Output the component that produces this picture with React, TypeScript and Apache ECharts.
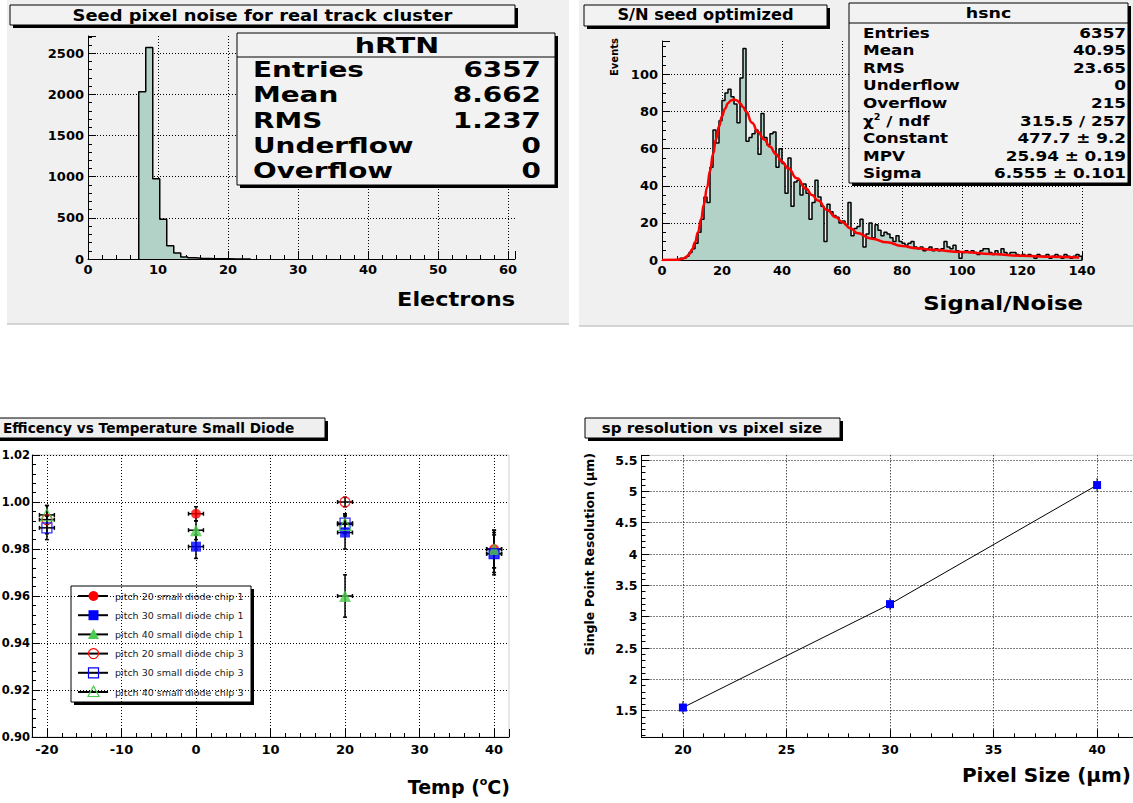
import React, { useEffect, useRef } from "react";
import * as echarts from "echarts";

// ---------------- hRTN : seed pixel noise ----------------
const noiseBinLow = 7.25; // low edge of first filled bin (electrons)
const noiseBinWidth = 1;
const noiseCounts = [2031, 2570, 976, 482, 160, 72, 24, 15, 8, 6, 4, 3, 2, 1, 1, 1];
const noiseStatLabels = ["Entries", "Mean", "RMS", "Underflow", "Overflow"];
const noiseStatValues = ["6357", "8.662", "1.237", "0", "0"];

// ---------------- hsnc : signal / noise ----------------
const snBinLow = 0;
const snBinWidth = 1;
const snCounts = [
  0, 0, 0, 0, 0, 0, 1, 1, 2, 4,
  6, 9, 15, 22, 34, 31, 50, 70, 63, 75,
  86, 90, 92, 88, 84, 74, 98, 114, 64, 66,
  68, 70, 57, 79, 66, 62, 68, 69, 50, 60,
  52, 36, 55, 29, 42, 43, 35, 41, 36, 22,
  31, 43, 34, 29, 10, 30, 26, 24, 23, 20,
  21, 19, 31, 13, 17, 18, 22, 7, 14, 20,
  12, 19, 16, 13, 15, 14, 12, 10, 13, 10,
  9, 8, 9, 10, 7, 6, 7, 5, 6, 7,
  5, 6, 5, 6, 10, 7, 6, 8, 5, 1,
  4, 5, 4, 5, 4, 3, 5, 6, 6, 4,
  3, 5, 3, 6, 4, 3, 4, 4, 3, 2,
  3, 2, 3, 2, 1, 3, 2, 2, 3, 1,
  2, 3, 2, 1, 3, 2, 1, 2, 3, 2,
];
// Landau fit curve: [S/N, events]
const snFitCurve = [
  [0, 0], [5, 0.1], [7, 0.7], [8, 1.5], [9, 3], [10, 5.5], [11, 9.5], [12, 15], [13, 22], [14, 30],
  [15, 39], [16, 48], [17, 57], [18, 65], [19, 72], [20, 77.5], [21, 81.5], [22, 84.5], [23, 86], [24, 86.5],
  [25, 86], [26, 84.5], [27, 82.5], [28, 80], [30, 74], [32, 69], [34, 65], [36, 61], [38, 57], [40, 53],
  [42, 49.5], [45, 44], [48, 38.5], [50, 35], [52, 32], [55, 27], [58, 23], [60, 20.5], [63, 17], [65, 14.5],
  [70, 11.5], [75, 9.5], [80, 7.5], [85, 6.3], [90, 5.5], [100, 4.3], [110, 3.2], [120, 2.3], [130, 1.7], [139, 1.3],
];
const snStatLabels = ["Entries", "Mean", "RMS", "Underflow", "Overflow", "CHI", "Constant", "MPV", "Sigma"];
const snStatValues = ["6357", "40.95", "23.65", "0", "215", "315.5 / 257", "477.7 ± 9.2", "25.94 ± 0.19", "6.555 ± 0.101"];

// ---------------- efficiency vs temperature ----------------
// [temperature (°C), efficiency, temperature error, efficiency error]
const effP20Chip1 = [[0, 0.995, 1, 0.003], [40, 0.98, 1, 0.008]];
const effP30Chip1 = [[0, 0.981, 1, 0.005], [20, 0.987, 1, 0.007], [40, 0.978, 1, 0.008]];
const effP40Chip1 = [[0, 0.988, 1, 0.004], [20, 0.96, 1, 0.009], [40, 0.98, 1, 0.008]];
const effP20Chip3 = [[-20, 0.9925, 1, 0.006], [20, 1.0, 1, 0.002]];
const effP30Chip3 = [[-20, 0.989, 1, 0.005], [20, 0.991, 1, 0.004], [40, 0.978, 1, 0.009]];
const effP40Chip3 = [[-20, 0.9945, 1, 0.004], [20, 0.9905, 1, 0.004]];
const effLegendLabels = [
  "pitch 20 small diode chip 1",
  "pitch 30 small diode chip 1",
  "pitch 40 small diode chip 1",
  "pitch 20 small diode chip 3",
  "pitch 30 small diode chip 3",
  "pitch 40 small diode chip 3",
];

// ---------------- sp resolution vs pixel size ----------------
const pixelSizes = [20, 30, 40];
const spResolution = [1.55, 3.2, 5.1];
const spResolutionErr = [0.1, 0.1, 0.11];

// ---------------- styling ----------------
const FONT = "'DejaVu Sans', 'Liberation Sans', Arial, sans-serif";
const HIST_FILL = "#b2d1c7";
const PANEL = "#f0f0f0";
const BOX = "#f2f2f2";
const RED = "#ff0000";
const BLUE = "#0000ff";
const GREEN = "#4ccc4c";

function histPoints(low: number, width: number, counts: number[]) {
  const pts: number[][] = [[low, 0]];
  counts.forEach((c, i) => pts.push([low + i * width, c]));
  pts.push([low + counts.length * width, 0]);
  return pts;
}

function makeAxis(o: any) {
  return {
    type: "value",
    gridIndex: o.grid,
    min: o.min,
    max: o.max,
    interval: o.interval,
    splitNumber: o.splitNumber,
    axisLine: { show: true, onZero: false, lineStyle: { color: "#000", width: 1 } },
    axisTick: { show: true, inside: true, length: 8, lineStyle: { color: "#000", width: 1 } },
    minorTick: { show: true, splitNumber: o.minor, length: 4, lineStyle: { color: "#000", width: 1 } },
    axisLabel: {
      show: true,
      fontFamily: FONT,
      fontWeight: "bold",
      fontSize: o.fontSize,
      color: "#000",
      margin: o.margin ?? 4,
      showMinLabel: o.showMinLabel ?? true,
      showMaxLabel: o.showMaxLabel ?? false,
      formatter: o.formatter ?? ((v: number) => String(v)),
    },
    splitLine: {
      show: true,
      showMinLine: false,
      showMaxLine: o.showMaxLine ?? false,
      lineStyle: { color: "#000", width: 1, type: [1, 2] },
    },
  };
}

function shadowBox(x: number, y: number, w: number, h: number, fill: string, z: number) {
  return [
    { type: "rect", silent: true, z, shape: { x: x + 3, y: y + 3, width: w, height: h }, style: { fill: "#000" } },
    { type: "rect", silent: true, z: z + 1, shape: { x, y, width: w, height: h }, style: { fill, stroke: "#000", lineWidth: 1 } },
  ];
}

function txt(text: string, x: number, y: number, size: number, o: any = {}) {
  return {
    type: "text",
    silent: true,
    z: o.z ?? 20,
    x,
    y,
    scaleX: o.sx ?? 1,
    scaleY: o.sy ?? 1,
    rotation: o.rot ?? 0,
    style: {
      text,
      fontSize: size,
      fontWeight: o.weight ?? "bold",
      fontFamily: FONT,
      fill: o.color ?? "#000",
      align: o.align ?? "left",
      verticalAlign: "middle",
      rich: o.rich,
    },
  };
}

function errorBarSeries(xAxisIndex: number, yAxisIndex: number, data: number[][], lw: number, cap: number) {
  return {
    type: "custom",
    xAxisIndex,
    yAxisIndex,
    z: 2,
    silent: true,
    encode: { x: 0, y: 1 },
    data,
    renderItem: (params: any, api: any) => {
      const x = api.value(0);
      const y = api.value(1);
      const ex = api.value(2);
      const ey = api.value(3);
      const c = api.coord([x, y]);
      const t = api.coord([x, y + ey]);
      const b = api.coord([x, y - ey]);
      const l = api.coord([x - ex, y]);
      const r = api.coord([x + ex, y]);
      const st = { stroke: "#000", lineWidth: lw };
      const children: any[] = [
        { type: "line", shape: { x1: c[0], y1: t[1], x2: c[0], y2: b[1] }, style: st },
      ];
      if (ex > 0) {
        children.push({ type: "line", shape: { x1: l[0], y1: c[1], x2: r[0], y2: c[1] }, style: st });
        children.push({ type: "line", shape: { x1: l[0], y1: c[1] - cap, x2: l[0], y2: c[1] + cap }, style: st });
        children.push({ type: "line", shape: { x1: r[0], y1: c[1] - cap, x2: r[0], y2: c[1] + cap }, style: st });
      }
      if (cap > 0) {
        children.push({ type: "line", shape: { x1: c[0] - cap, y1: t[1], x2: c[0] + cap, y2: t[1] }, style: st });
        children.push({ type: "line", shape: { x1: c[0] - cap, y1: b[1], x2: c[0] + cap, y2: b[1] }, style: st });
      }
      return { type: "group", children };
    },
  };
}

function buildOption() {
  const g: any[] = [];
  // pad backgrounds (top row)
  g.push({ type: "rect", silent: true, z: -10, shape: { x: 7, y: 0, width: 562, height: 324 }, style: { fill: PANEL } });
  g.push({ type: "line", silent: true, z: -9, shape: { x1: 7, y1: 324, x2: 569, y2: 324 }, style: { stroke: "#c8c8c8", lineWidth: 1.5 } });
  g.push({ type: "rect", silent: true, z: -10, shape: { x: 579, y: 0, width: 554, height: 326 }, style: { fill: PANEL } });
  g.push({ type: "line", silent: true, z: -9, shape: { x1: 579, y1: 326, x2: 1133, y2: 326 }, style: { stroke: "#c8c8c8", lineWidth: 1.5 } });

  // ---- TL title + stats ----
  g.push(...shadowBox(10, 5, 505, 20, BOX, 10));
  g.push(txt("Seed pixel noise for real track cluster", 262.5, 15.5, 16, { align: "center", sx: 1.12 }));
  g.push(...shadowBox(237, 33, 318, 152, BOX, 10));
  g.push({ type: "line", silent: true, z: 12, shape: { x1: 237, y1: 57, x2: 555, y2: 57 }, style: { stroke: "#000", lineWidth: 1 } });
  g.push(txt("hRTN", 397, 45, 22, { align: "center", sx: 1.3 }));
  noiseStatLabels.forEach((lab, i) => {
    const y = 70 + i * 25.3;
    g.push(txt(lab, 253, y, 20.5, { sx: 1.36 }));
    g.push(txt(noiseStatValues[i], 541, y, 20.5, { align: "right", sx: 1.36 }));
  });
  g.push(txt("Electrons", 515, 300, 19, { align: "right", sx: 1.18 }));

  // ---- TR title + stats ----
  g.push(...shadowBox(584, 5, 243, 21, BOX, 10));
  g.push(txt("S/N seed optimized", 705.5, 15.5, 15, { align: "center", sx: 1.08 }));
  g.push(...shadowBox(849, 3, 279, 180, BOX, 10));
  g.push({ type: "line", silent: true, z: 12, shape: { x1: 849, y1: 23, x2: 1128, y2: 23 }, style: { stroke: "#000", lineWidth: 1 } });
  g.push(txt("hsnc", 988.5, 13, 14.5, { align: "center", sx: 1.2 }));
  snStatLabels.forEach((lab, i) => {
    const y = 33 + i * 17.6;
    if (lab === "CHI") {
      g.push(
        txt("{a|χ}{s|2}{a| / ndf}", 863, y, 14, {
          sx: 1.2,
          rich: {
            a: { fontFamily: FONT, fontWeight: "bold", fontSize: 14, lineHeight: 16, fill: "#000" },
            s: { fontFamily: FONT, fontWeight: "bold", fontSize: 8, lineHeight: 16, verticalAlign: "top", fill: "#000" },
          },
        })
      );
    } else {
      g.push(txt(lab, 863, y, 14, { sx: 1.2 }));
    }
    g.push(txt(snStatValues[i], 1126, y, 14, { align: "right", sx: 1.2 }));
  });
  g.push(txt("Events", 614, 38, 10, { align: "right", rot: Math.PI / 2 }));
  g.push(txt("Signal/Noise", 1083, 304, 19, { align: "right", sx: 1.2 }));

  // ---- BL title, legend, axis title ----
  g.push(...shadowBox(-40, 418, 365, 20, "#efefef", 10));
  g.push(txt("Efficency vs Temperature Small Diode", 3, 428, 14, { align: "left", sx: 0.98 }));
  // legend frame (transparent) with shadow strips
  g.push({ type: "rect", silent: true, z: 10, shape: { x: 71, y: 586, width: 180, height: 116 }, style: { fill: "none", stroke: "#000", lineWidth: 1 } });
  g.push({ type: "rect", silent: true, z: 10, shape: { x: 251, y: 589, width: 3, height: 116 }, style: { fill: "#000" } });
  g.push({ type: "rect", silent: true, z: 10, shape: { x: 74, y: 702, width: 180, height: 3 }, style: { fill: "#000" } });
  const legColors = [RED, BLUE, GREEN, RED, BLUE, GREEN];
  const legShapes = ["circle", "rect", "tri", "circle", "rect", "tri"];
  effLegendLabels.forEach((lab, i) => {
    const y = 596 + i * 19.2;
    const cx = 93.5;
    const filled = i < 3;
    g.push({ type: "line", silent: true, z: 11, shape: { x1: 78, y1: y, x2: 108, y2: y }, style: { stroke: "#000", lineWidth: 2 } });
    const st = filled ? { fill: legColors[i] } : { fill: "none", stroke: legColors[i], lineWidth: 1.2 };
    if (legShapes[i] === "circle") g.push({ type: "circle", silent: true, z: 12, shape: { cx, cy: y, r: 5 }, style: st });
    else if (legShapes[i] === "rect") g.push({ type: "rect", silent: true, z: 12, shape: { x: cx - 5, y: y - 5, width: 10, height: 10 }, style: st });
    else g.push({ type: "polygon", silent: true, z: 12, shape: { points: [[cx, y - 6], [cx - 5.5, y + 4.5], [cx + 5.5, y + 4.5]] }, style: st });
    g.push(txt(lab, 115, y, 9.5, { weight: "normal", color: "#222" }));
  });
  g.push(
    txt("{a|Temp (}{s|o}{a|C)}", 510, 787, 19, {
      align: "right",
      rich: {
        a: { fontFamily: FONT, fontWeight: "bold", fontSize: 19, lineHeight: 22, fill: "#000" },
        s: { fontFamily: FONT, fontWeight: "bold", fontSize: 11, lineHeight: 22, verticalAlign: "top", fill: "#000" },
      },
    })
  );

  // ---- BR title + axis titles ----
  g.push(...shadowBox(585, 418, 255, 20, "#efefef", 10));
  g.push(txt("sp resolution vs pixel size", 712, 428, 14, { align: "center", sx: 1.08 }));
  g.push(txt("Single Point Resolution (μm)", 589, 453, 12.5, { align: "right", rot: Math.PI / 2 }));
  g.push(txt("Pixel Size (μm)", 1131, 775, 20, { align: "right" }));

  const effSeries = [effP20Chip1, effP30Chip1, effP40Chip1, effP20Chip3, effP30Chip3, effP40Chip3];
  const effSymbols = ["circle", "rect", "triangle", "circle", "rect", "triangle"];
  const effSizes = [10, 10, 12, 10, 10, 12];

  const series: any[] = [
    {
      type: "line",
      xAxisIndex: 0,
      yAxisIndex: 0,
      step: "end",
      symbol: "none",
      z: 3,
      data: histPoints(noiseBinLow, noiseBinWidth, noiseCounts),
      lineStyle: { color: "#000", width: 1.5 },
      areaStyle: { color: HIST_FILL, opacity: 1 },
    },
    {
      type: "line",
      xAxisIndex: 1,
      yAxisIndex: 1,
      step: "end",
      symbol: "none",
      z: 3,
      data: histPoints(snBinLow, snBinWidth, snCounts),
      lineStyle: { color: "#000", width: 1.5 },
      areaStyle: { color: HIST_FILL, opacity: 1 },
    },
    {
      type: "line",
      xAxisIndex: 1,
      yAxisIndex: 1,
      symbol: "none",
      smooth: true,
      smoothMonotone: "x",
      z: 4,
      data: snFitCurve,
      lineStyle: { color: RED, width: 2.5 },
    },
    errorBarSeries(2, 2, effSeries.flat(), 1.5, 2),
  ];
  effSeries.forEach((arr, i) => {
    const filled = i < 3;
    series.push({
      type: "scatter",
      xAxisIndex: 2,
      yAxisIndex: 2,
      z: 3 + i,
      symbol: effSymbols[i],
      symbolSize: effSizes[i],
      data: arr.map((p) => [p[0], p[1]]),
      itemStyle: filled
        ? { color: legColors[i] }
        : { color: "rgba(0,0,0,0)", borderColor: legColors[i], borderWidth: 1.3 },
    });
  });
  series.push(
    errorBarSeries(3, 3, pixelSizes.map((x, i) => [x, spResolution[i], 0, spResolutionErr[i]]), 1, 0)
  );
  series.push({
    type: "line",
    xAxisIndex: 3,
    yAxisIndex: 3,
    z: 4,
    symbol: "rect",
    symbolSize: 8,
    data: pixelSizes.map((x, i) => [x, spResolution[i]]),
    lineStyle: { color: "#000", width: 1 },
    itemStyle: { color: BLUE },
  });

  return {
    animation: false,
    backgroundColor: "#ffffff",
    grid: [
      { left: 88, top: 36, width: 427, height: 223, show: false, outerBoundsMode: "none" },
      { left: 662, top: 41, width: 420, height: 219, show: false, outerBoundsMode: "none" },
      { left: 32, top: 455, width: 477, height: 282, show: true, borderColor: "#cfcfcf", borderWidth: 1, backgroundColor: "rgba(0,0,0,0)", outerBoundsMode: "none" },
      { left: 641.5, top: 455.3, width: 497, height: 282, show: true, borderColor: "#cfcfcf", borderWidth: 1, backgroundColor: "rgba(0,0,0,0)", outerBoundsMode: "none" },
    ],
    xAxis: [
      makeAxis({ grid: 0, min: 0, max: 61, interval: 10, minor: 5, fontSize: 13 }),
      makeAxis({ grid: 1, min: 0, max: 140, interval: 20, minor: 4, fontSize: 13, showMaxLabel: true, showMaxLine: true }),
      makeAxis({ grid: 2, min: -22, max: 42, splitNumber: 6, minor: 5, fontSize: 13, showMinLabel: false, margin: 6 }),
      makeAxis({ grid: 3, min: 18, max: 42, splitNumber: 5, minor: 5, fontSize: 12.5, showMinLabel: false, margin: 6 }),
    ],
    yAxis: [
      makeAxis({ grid: 0, min: 0, max: 2710, interval: 500, minor: 5, fontSize: 13 }),
      makeAxis({ grid: 1, min: 0, max: 118, interval: 20, minor: 4, fontSize: 13 }),
      makeAxis({ grid: 2, min: 0.9, max: 1.02, interval: 0.02, minor: 5, fontSize: 11.5, margin: 2, showMaxLabel: true, showMaxLine: true, formatter: (v: number) => v.toFixed(2) }),
      makeAxis({ grid: 3, min: 1.075, max: 5.575, splitNumber: 9, minor: 5, fontSize: 12.5, showMinLabel: false }),
    ],
    graphic: { elements: g },
    series,
  };
}

export default function App() {
  const ref = useRef<HTMLDivElement>(null);
  useEffect(() => {
    document.body.style.margin = "0";
    const chart = echarts.init(ref.current!, undefined, { renderer: "svg", width: 1133, height: 803 });
    chart.setOption(buildOption() as any);
    return () => chart.dispose();
  }, []);
  return <div ref={ref} style={{ width: 1133, height: 803, background: "#fff" }} />;
}
